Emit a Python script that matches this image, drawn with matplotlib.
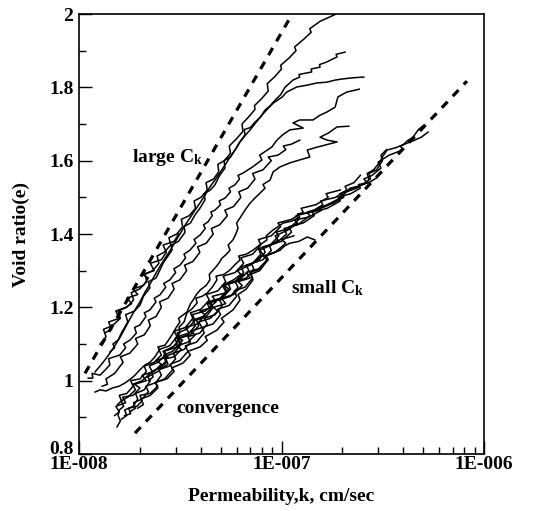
import numpy as np
import matplotlib
matplotlib.use("Agg")
import matplotlib.pyplot as plt
import matplotlib.transforms as mtransforms
from matplotlib.ticker import LogLocator, MultipleLocator, NullFormatter

plt.rcParams['font.family'] = ['Liberation Serif', 'DejaVu Serif']
plt.rcParams['font.weight'] = 'bold'
plt.rcParams['mathtext.fontset'] = 'custom'
plt.rcParams['mathtext.rm'] = 'Liberation Serif:bold'
plt.rcParams['mathtext.it'] = 'Liberation Serif:bold'
plt.rcParams['mathtext.bf'] = 'Liberation Serif:bold'

# permeability in units of 1E-8 cm/sec, void ratio e  -> (k, e)
# large Ck group
line_a = [(1.27,1.10),(1.36,1.12),(1.32,1.14),(1.46,1.15),(1.60,1.17),(1.56,1.19),(1.72,1.20),(1.86,1.22),(1.81,1.24),
          (1.99,1.25),(2.16,1.27),(2.12,1.29),(2.31,1.30),(2.48,1.32),(2.43,1.34),(2.63,1.35),(2.84,1.37),(2.78,1.39),
          (3.04,1.40),(3.25,1.42),(3.20,1.44),(3.50,1.45),(3.76,1.47),(3.70,1.49),(4.00,1.50),(4.30,1.52),(4.24,1.54),
          (4.62,1.55),(4.90,1.57),(4.85,1.59),(5.22,1.60),(5.60,1.62),(5.52,1.64),(6.00,1.66),(6.45,1.68),(6.38,1.70),
          (6.90,1.72),(7.40,1.74),(7.35,1.75),(8.00,1.77),(8.60,1.79),(8.50,1.81),(9.30,1.83),(10.0,1.85),(9.90,1.86),
          (10.9,1.88),(11.8,1.90),(11.6,1.91),(12.8,1.93),(14.0,1.95),(13.8,1.96),(15.5,1.98),(17.0,1.99),(18.6,2.00)]
line_b = [(1.42,1.078),(1.50,1.09),(1.47,1.10),(1.56,1.111),(1.62,1.13),(1.74,1.16),(1.70,1.18),(1.88,1.19),(2.00,1.206),
          (2.08,1.23),(2.24,1.253),(2.20,1.27),(2.40,1.28),(2.51,1.302),(2.60,1.32),(2.75,1.34),(2.88,1.356),(2.85,1.37),
          (3.10,1.38),(3.34,1.405),(3.30,1.42),(3.55,1.43),(3.74,1.452),(3.95,1.47),(4.19,1.493),(4.15,1.51),(4.45,1.52),
          (4.69,1.534),(4.95,1.56),(5.26,1.58),(5.20,1.60),(5.60,1.61),(5.89,1.629),(6.20,1.65),(6.60,1.67),(6.55,1.685),
          (7.00,1.69),(7.40,1.705),(7.90,1.72),(8.29,1.738),(8.80,1.75),(9.29,1.765),(9.90,1.78),(10.4,1.80),(11.4,1.82),
          (12.3,1.828),(12.2,1.835),(14.1,1.842),(14.0,1.85),(15.5,1.855),(15.4,1.862),(16.7,1.869),(18.8,1.883),
          (18.6,1.89),(20.6,1.896)]
line_c = [(1.20,1.024),(1.27,1.04),(1.34,1.056),(1.42,1.075),(1.51,1.097),(1.60,1.12),(1.69,1.144),(1.79,1.17),(1.89,1.193),
          (2.00,1.215),(2.12,1.242),(2.25,1.265),(2.37,1.288),(2.50,1.31),(2.66,1.334),(2.82,1.355),(2.98,1.378),(3.15,1.40),
          (3.34,1.424),(3.54,1.445),(3.74,1.465),(3.96,1.485),(4.19,1.506),(4.45,1.53),(4.69,1.547),(5.00,1.57),(5.26,1.588),
          (5.50,1.605),(5.75,1.621),(6.00,1.635),(6.24,1.651),(6.60,1.668),(7.00,1.684),(7.50,1.705),(8.00,1.724),(8.50,1.74),
          (9.10,1.757),(10.1,1.774),(10.6,1.787),(11.9,1.801),(13.4,1.806),(15.0,1.812),(16.7,1.814),(18.5,1.82),
          (20.1,1.823),(22.5,1.826),(25.5,1.828)]
line_d = [(1.11,1.007),(1.17,1.007),(1.16,1.02),(1.27,1.015),(1.35,1.03),(1.42,1.043),(1.40,1.06),(1.59,1.070),(1.70,1.09),
          (1.66,1.10),(1.79,1.111),(1.92,1.13),(1.88,1.145),(2.00,1.152),(2.14,1.175),(2.10,1.185),(2.24,1.193),(2.40,1.215),
          (2.35,1.225),(2.51,1.234),(2.68,1.255),(2.62,1.265),(2.81,1.275),(3.00,1.295),(2.94,1.305),(3.15,1.315),
          (3.36,1.335),(3.30,1.345),(3.53,1.356),(3.78,1.375),(3.70,1.385),(3.96,1.397),(4.20,1.415),(4.12,1.425),
          (4.33,1.433),(4.55,1.45),(4.48,1.46),(4.69,1.465),(5.00,1.48),(4.92,1.49),(5.26,1.498),(5.60,1.515),(5.50,1.525),
          (5.89,1.534),(6.20,1.55),(6.10,1.56),(6.45,1.566),(7.20,1.583),(8.00,1.602),(7.80,1.615),(8.95,1.637),(9.50,1.656),
          (10.1,1.670),(11.0,1.684),(12.8,1.689),(11.4,1.703),(12.3,1.711),(14.3,1.711),(15.5,1.724),(16.8,1.733),
          (18.4,1.746),(19.0,1.774),(21.0,1.787),(24.2,1.795)]
line_e = [(1.20,0.969),(1.27,0.975),(1.36,0.972),(1.46,0.980),(1.58,0.985),(1.69,0.994),(1.80,1.005),(1.89,1.015),
          (2.00,1.03),(2.12,1.043),(2.24,1.05),(2.37,1.065),(2.50,1.085),(2.45,1.092),(2.66,1.097),(2.80,1.115),(2.88,1.125),
          (3.02,1.145),(3.15,1.16),(3.10,1.17),(3.41,1.187),(3.55,1.21),(3.66,1.22),(3.80,1.235),(3.96,1.247),(4.25,1.26),
          (4.43,1.275),(4.40,1.29),(4.69,1.307),(4.90,1.32),(5.08,1.334),(5.35,1.345),(5.57,1.356),(5.45,1.37),(5.76,1.384),
          (5.95,1.40),(6.10,1.416),(6.00,1.43),(6.24,1.444),(6.60,1.465),(6.99,1.484),(7.30,1.495),(7.65,1.506),(8.29,1.525),
          (8.10,1.535),(8.78,1.547),(9.08,1.569),(9.83,1.583),(11.0,1.594),(12.3,1.602),(13.8,1.610),(13.4,1.629),
          (15.0,1.637),(18.8,1.651),(16.8,1.656),(15.5,1.664),(17.0,1.675),(18.8,1.692),(21.5,1.694)]
line_f = [(1.30,0.985),(1.38,0.99),(1.36,1.005),(1.50,1.02),(1.65,1.05),(1.60,1.065),(1.78,1.075),(1.95,1.10),(1.90,1.115),
          (2.10,1.125),(2.25,1.15),(2.20,1.165),(2.40,1.175),(2.55,1.20),(2.50,1.215),(2.75,1.225),(2.95,1.25),(2.88,1.265),
          (3.15,1.275),(3.40,1.30),(3.32,1.315),(3.65,1.325),(3.95,1.35),(3.85,1.365),(4.25,1.375),(4.60,1.40),(4.50,1.415),
          (4.95,1.425),(5.40,1.45),(5.25,1.465),(5.80,1.475),(6.30,1.50),(6.15,1.515),(6.80,1.525),(7.40,1.55),(7.20,1.565),
          (8.10,1.575),(8.90,1.60),(8.60,1.61),(9.60,1.615),(10.5,1.63),(10.2,1.64),(11.2,1.645),(12.3,1.656)]
line_g = [(1.34,1.13),(1.45,1.14),(1.40,1.16),(1.58,1.17),(1.52,1.19),(1.70,1.20),(1.82,1.21),(1.72,1.225),(1.95,1.235),
          (1.85,1.25),(2.08,1.26),(2.20,1.28),(2.05,1.29),(2.35,1.30),(2.25,1.32),(2.55,1.33),(2.70,1.35),(2.60,1.37),
          (2.95,1.38),(3.10,1.40)]

# small Ck group
line_s1 = [(1.54,0.874),(1.60,0.89),(1.56,0.905),(1.58,0.92),(1.66,0.93),(1.62,0.945),(1.74,0.955),(1.90,0.975),(1.84,0.99),
           (2.05,1.00),(2.30,1.025),(2.22,1.04),(2.45,1.05),(2.68,1.07),(2.60,1.08),(2.90,1.09),(3.15,1.115),(3.05,1.13),
           (3.40,1.14),(3.75,1.165),(3.62,1.18),(4.20,1.19),(4.75,1.215),(4.55,1.23),(5.35,1.24),(5.10,1.26),(5.80,1.275),
           (6.30,1.29),(6.05,1.30),(7.00,1.315),(7.60,1.33),(8.10,1.345),(7.80,1.356),(8.90,1.37),(9.60,1.384),(9.30,1.395),
           (10.7,1.41),(12.0,1.43),(11.6,1.438),(13.6,1.446),(15.8,1.465),(15.2,1.472),(18.0,1.484),(20.0,1.50),(19.4,1.51),
           (22.5,1.525),(26.5,1.54),(25.5,1.55),(28.0,1.56),(31.0,1.58),(30.0,1.596),(34.0,1.615),(40.0,1.63),(38.5,1.64),
           (45.0,1.655),(49.0,1.664),(53.0,1.678)]
line_s2 = [(2.55,1.06),(2.70,1.07),(2.62,1.08),(2.85,1.09),(3.05,1.10),(2.98,1.115),(3.15,1.13),(3.12,1.146),(3.30,1.16),
           (3.41,1.185),(3.60,1.195),(3.83,1.212),(3.78,1.225),(4.05,1.23),(4.29,1.239),(4.55,1.255),(4.80,1.275),
           (4.75,1.285),(5.20,1.29),(5.57,1.302),(5.85,1.315),(6.24,1.329),(6.15,1.34),(6.70,1.345),(7.23,1.356),(7.80,1.37),
           (8.48,1.384),(8.40,1.395),(9.08,1.411),(9.60,1.42),(10.2,1.430),(11.2,1.435),(12.3,1.446),(12.0,1.455),
           (13.5,1.458),(15.0,1.465),(16.2,1.475),(17.4,1.484),(19.5,1.498),(20.5,1.51),(21.8,1.525),(24.0,1.53),
           (26.4,1.539),(27.0,1.55),(26.5,1.565),(28.5,1.575),(30.6,1.596),(31.5,1.61),(33.2,1.629),(36.5,1.635),
           (39.8,1.643),(42.0,1.655),(44.6,1.664),(47.5,1.685),(50.5,1.697)]
line_s3 = [(1.68,0.905),(1.80,0.91),(1.76,0.925),(1.93,0.93),(2.05,0.945),(2.00,0.96),(2.24,0.965),(2.45,0.985),(2.38,0.995),
           (2.72,1.005),(2.95,1.025),(2.88,1.035),(3.26,1.048),(3.55,1.07),(3.45,1.08),(3.96,1.092),(4.30,1.11),(4.20,1.12),
           (4.80,1.138),(5.20,1.16),(5.05,1.17),(5.76,1.193),(6.24,1.22),(6.10,1.235),(6.70,1.25),(7.23,1.275),(7.05,1.29),
           (7.80,1.30),(8.48,1.329),(8.30,1.34),(9.83,1.356),(10.4,1.368),(11.0,1.375),(12.2,1.38),(13.4,1.392),(14.6,1.384)]
line_s4 = [(1.62,0.895),(1.72,0.905),(1.68,0.92),(1.85,0.93),(1.95,0.95),(1.90,0.965),(2.10,0.975),(2.25,1.00),(2.18,1.01),
           (2.45,1.025),(2.70,1.05),(2.62,1.065),(2.95,1.075),(3.20,1.10),(3.10,1.115),(3.55,1.125),(3.90,1.15),(3.80,1.165),
           (4.25,1.175),(4.60,1.20),(4.45,1.215),(5.10,1.225),(5.60,1.25),(5.45,1.265),(6.20,1.275),(6.90,1.30),(6.70,1.315),
           (7.60,1.325),(8.30,1.35),(8.10,1.365),(9.40,1.375),(10.6,1.40),(10.3,1.415),(12.0,1.425),(13.8,1.45),(13.4,1.46),
           (16.5,1.475),(20.3,1.50),(19.8,1.51),(23.5,1.525),(27.5,1.55),(27.0,1.565),(29.5,1.575),(31.5,1.60),(31.0,1.615),
           (33.0,1.63)]
line_s5 = [(1.78,0.915),(1.90,0.925),(1.86,0.94),(2.05,0.95),(2.20,0.97),(2.14,0.985),(2.40,0.995),(2.55,1.015),(2.48,1.03),
           (2.80,1.04),(3.00,1.06),(2.92,1.075),(3.30,1.085),(3.55,1.105),(3.45,1.12),(3.95,1.13),(4.30,1.155),(4.15,1.17),
           (4.70,1.18),(5.10,1.205),(4.95,1.22),(5.60,1.23),(6.10,1.255),(5.90,1.27),(6.70,1.28),(7.30,1.305),(7.10,1.32),
           (8.10,1.33),(8.90,1.355),(8.70,1.37),(10.0,1.38),(11.2,1.405),(10.9,1.42),(12.8,1.43),(14.5,1.45),(14.2,1.46),
           (16.8,1.47),(19.5,1.49),(19.0,1.50),(22.0,1.51),(24.5,1.525),(24.0,1.535),(27.0,1.54),(29.5,1.553)]
line_s6 = [(1.55,0.935),(1.62,0.945),(1.58,0.96),(1.72,0.965),(1.85,0.985),(1.80,1.00),(2.00,1.005),(2.15,1.025),(2.10,1.04),
           (2.35,1.05),(2.55,1.07),(2.48,1.085),(2.80,1.095),(3.05,1.12),(2.95,1.135),(3.35,1.145),(3.65,1.17),(3.55,1.185),
           (4.00,1.195),(4.40,1.22),(4.25,1.235),(4.85,1.245),(5.30,1.27),(5.15,1.285),(5.90,1.295),(6.50,1.32),(6.30,1.335),
           (7.20,1.345),(7.90,1.37),(7.70,1.385),(8.90,1.395),(9.90,1.42),(9.60,1.43),(11.2,1.44),(12.8,1.46),(12.5,1.47),
           (14.8,1.48),(17.0,1.50),(16.6,1.51),(19.5,1.52)]
line_s7 = [(1.95,0.925),(2.08,0.935),(2.02,0.95),(2.25,0.96),(2.45,0.98),(2.38,0.995),(2.65,1.005),(2.90,1.03),(2.82,1.045),
           (3.15,1.055),(3.45,1.08),(3.35,1.095),(3.80,1.105),(4.15,1.13),(4.05,1.145),(4.60,1.155),(5.00,1.18),(4.85,1.195),
           (5.50,1.205),(6.00,1.23),(5.85,1.245),(6.60,1.255),(7.20,1.28),(7.00,1.295),(7.90,1.305),(8.60,1.33),(8.40,1.34),
           (9.80,1.356)]
line_s8 = [(2.20,1.00),(2.32,1.01),(2.28,1.025),(2.50,1.035),(2.70,1.055),(2.62,1.07),(2.90,1.08),(3.15,1.10),(3.05,1.115),
           (3.45,1.125),(3.75,1.15),(3.65,1.165),(4.10,1.175),(4.45,1.195),(4.30,1.21),(4.90,1.22),(5.35,1.245),(5.20,1.26),
           (5.90,1.27),(6.50,1.295),(6.30,1.31),(7.20,1.32),(7.90,1.345),(7.70,1.36),(8.80,1.37),(9.70,1.395),(9.40,1.405),
           (10.9,1.415),(12.2,1.44),(11.8,1.45),(14.0,1.46),(16.0,1.48),(15.6,1.49),(18.5,1.50),(21.0,1.52),(20.6,1.53),
           (22.8,1.54),(24.5,1.56)]
line_s9 = [(1.50,0.905),(1.58,0.915),(1.52,0.93),(1.70,0.94),(1.64,0.955),(1.85,0.96),(2.00,0.98),(1.88,0.99),(2.15,1.00),
           (2.05,1.015),(2.35,1.025),(2.55,1.045),(2.40,1.055),(2.75,1.065),(2.62,1.08),(3.00,1.09),(3.25,1.11),(3.05,1.12),
           (3.50,1.13),(3.35,1.145),(3.85,1.155),(4.20,1.18),(3.95,1.19),(4.55,1.20),(4.35,1.215),(5.00,1.225),(5.50,1.25),
           (5.20,1.26),(6.00,1.27),(6.50,1.29)]
line_s10 = [(2.60,1.035),(2.75,1.045),(2.68,1.06),(2.95,1.065),(3.20,1.085),(3.05,1.095),(3.45,1.105),(3.75,1.125),
            (3.55,1.135),(4.05,1.145),(3.90,1.16),(4.45,1.17),(4.85,1.19),(4.60,1.20),(5.30,1.21),(5.05,1.225),(5.80,1.235),
            (6.40,1.26),(6.10,1.27),(7.00,1.28),(6.70,1.295),(7.70,1.305),(8.50,1.33),(8.10,1.34),(9.30,1.35),(10.5,1.375),
            (10.0,1.385),(11.5,1.395)]

# bounding dashed lines (k, e)
dash_large = [(1.07, 1.02), (11.3, 2.0)]
dash_small = [(1.89, 0.857), (82.4, 1.817)]

all_lines = [line_a, line_b, line_c, line_d, line_e, line_f, line_g,
             line_s1, line_s2, line_s3, line_s4, line_s5, line_s6, line_s7, line_s8, line_s9, line_s10]

fig = plt.figure(figsize=(5.53, 5.11), dpi=100)
ax = fig.add_axes([0.1429, 0.1115, 0.7323, 0.8611])

for ln in all_lines:
    k, e = np.array(ln).T
    ax.plot(k * 1e-8, e, color='black', lw=1.1)

for dl in (dash_large, dash_small):
    k, e = np.array(dl).T
    ax.plot(k * 1e-8, e, color='black', lw=2.3, dashes=(2.6, 2.4))

ax.set_xscale('log')
ax.set_xlim(1e-8, 1e-6)
ax.set_ylim(0.8, 2.0)

ax.set_xticks([1e-8, 1e-7, 1e-6])
ax.set_xticklabels(['1E-008', '1E-007', '1E-006'])
ax.xaxis.set_minor_locator(LogLocator(base=10, subs=np.arange(2, 10)))
ax.xaxis.set_minor_formatter(NullFormatter())
ax.set_yticks([0.8, 1.0, 1.2, 1.4, 1.6, 1.8, 2.0])
ax.set_yticklabels(['0.8', '1', '1.2', '1.4', '1.6', '1.8', '2'])
ax.yaxis.set_minor_locator(MultipleLocator(0.1))

ax.tick_params(which='major', direction='in', length=9.5, width=1.0, labelsize=14)
ax.tick_params(axis='x', which='major', pad=1.5)
ax.tick_params(axis='y', which='major', pad=4)
ax.tick_params(which='minor', direction='in', length=5, width=1.0)
ax.tick_params(top=False, right=False, which='both')
for sp in ax.spines.values():
    sp.set_linewidth(1.2)

# lift the bottom y label a little so it sits above the x labels
lab08 = ax.get_yticklabels()[0]
lab08.set_transform(lab08.get_transform() + mtransforms.ScaledTranslation(0, 5 / 72, fig.dpi_scale_trans))

ax.set_xlabel('Permeability,k, cm/sec', fontsize=14, fontweight='bold', labelpad=11)
ax.set_ylabel('Void ratio(e)', fontsize=14, fontweight='bold', labelpad=14)

ax.text(2.72e-8, 1.61, 'large C$_{k}$', fontsize=14, ha='center', va='center')
ax.text(16.8e-8, 1.253, 'small C$_{k}$', fontsize=14, ha='center', va='center')
ax.text(5.44e-8, 0.925, 'convergence', fontsize=14, ha='center', va='center')

fig.savefig('out.png', dpi=100)
